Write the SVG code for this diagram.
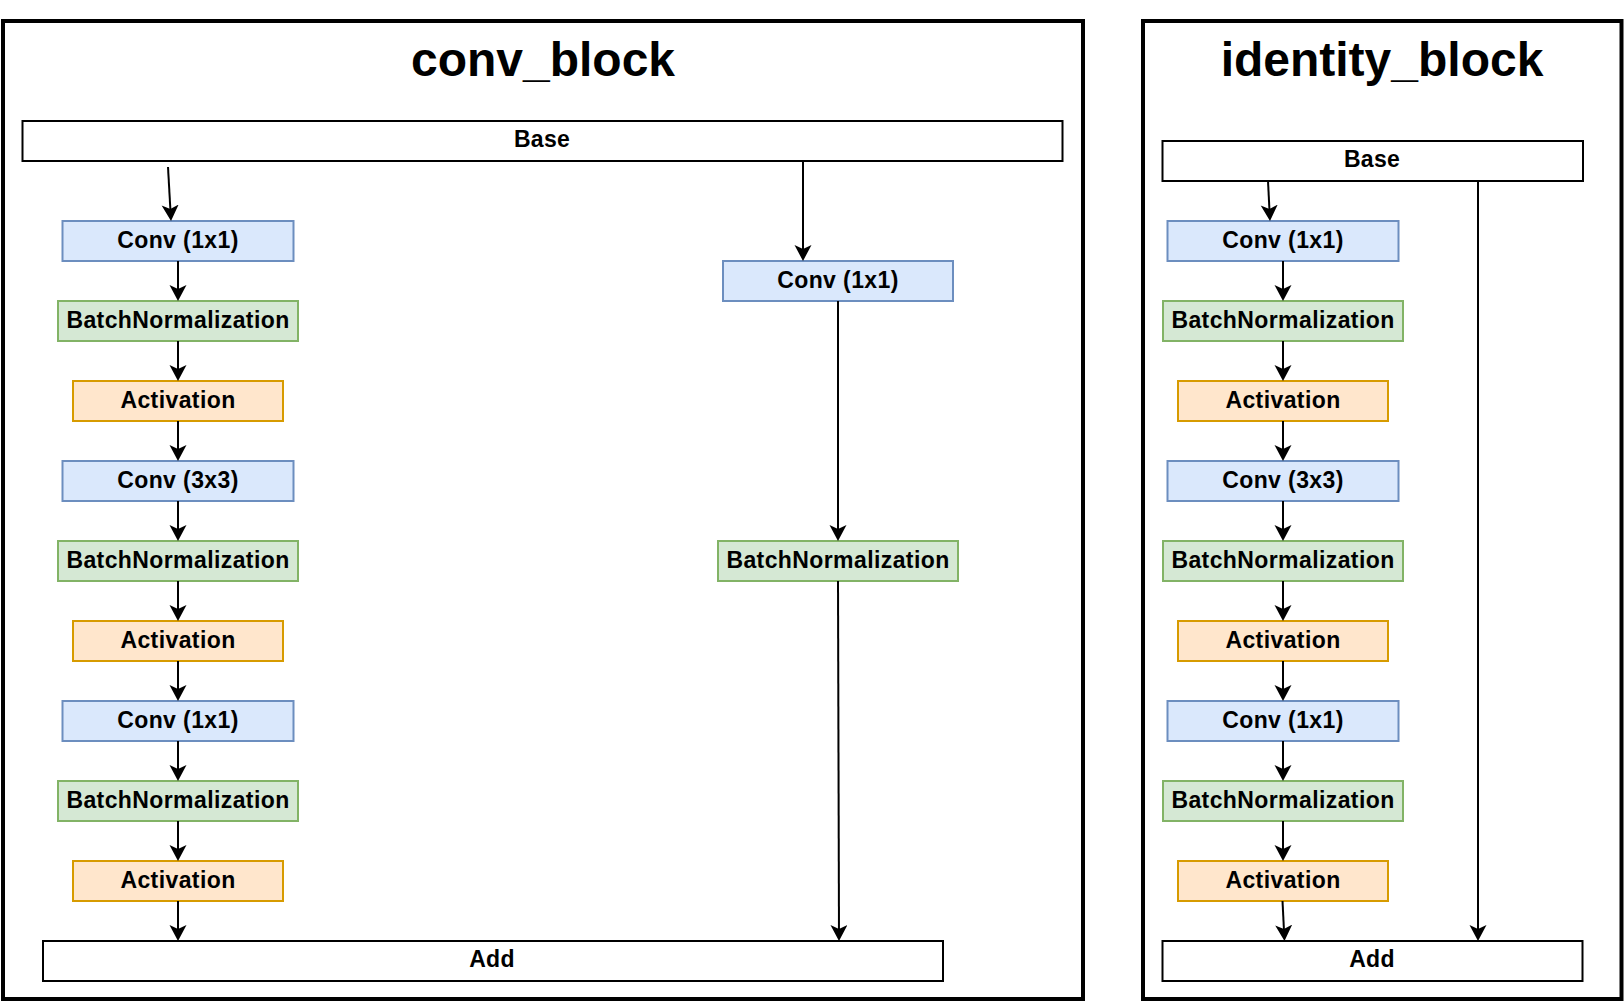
<svg xmlns="http://www.w3.org/2000/svg" width="1624" height="1002" viewBox="0 0 1624 1002">
<style>
.frame{fill:#fff;stroke:#000;stroke-width:4}
.title{font-family:"Liberation Sans",Arial,sans-serif;font-weight:bold;font-size:48px;text-anchor:middle;fill:#000}
.plain{fill:#fff;stroke:#000;stroke-width:2}
.conv{fill:#dae8fc;stroke:#6c8ebf;stroke-width:2}
.bn{fill:#d5e8d4;stroke:#82b366;stroke-width:2}
.act{fill:#ffe6cc;stroke:#d79b00;stroke-width:2}
.lbl{font-family:"Liberation Sans",Arial,sans-serif;font-weight:bold;font-size:23px;letter-spacing:0.4px;text-anchor:middle;fill:#000}
.lbl2{font-family:"Liberation Sans",Arial,sans-serif;font-weight:bold;font-size:23px;letter-spacing:0.3px;text-anchor:middle;fill:#000}
.edge{fill:none;stroke:#000;stroke-width:2;marker-end:url(#arr)}
</style>
<defs>
<marker id="arr" markerUnits="userSpaceOnUse" markerWidth="18" markerHeight="18" refX="12" refY="8.5" orient="auto" viewBox="0 0 18 18">
<path d="M0,0 L16,8.5 L0,17 L4,8.5 Z" fill="#000"/>
</marker>
</defs>
<rect width="1624" height="1002" fill="#fff"/>
<g id="conv_block_frame">
<rect class="frame" x="3" y="21" width="1080" height="978"/>
<text class="title" x="543" y="76">conv_block</text>
</g>
<g id="identity_block_frame">
<rect class="frame" x="1143" y="21" width="478.5" height="978"/>
<text class="title" x="1382" y="76">identity_block</text>
</g>

<g id="cb_base"><rect class="plain" x="22.5" y="121" width="1040" height="40"/><text class="lbl2" x="542" y="147">Base</text></g>
<g id="cb_conv1"><rect class="conv" x="62.5" y="221" width="231" height="40"/><text class="lbl" x="178" y="248">Conv (1x1)</text></g>
<g id="cb_bn1"><rect class="bn" x="58" y="301" width="240" height="40"/><text class="lbl" x="178" y="328">BatchNormalization</text></g>
<g id="cb_act1"><rect class="act" x="73" y="381" width="210" height="40"/><text class="lbl" x="178" y="408">Activation</text></g>
<g id="cb_conv2"><rect class="conv" x="62.5" y="461" width="231" height="40"/><text class="lbl" x="178" y="488">Conv (3x3)</text></g>
<g id="cb_bn2"><rect class="bn" x="58" y="541" width="240" height="40"/><text class="lbl" x="178" y="568">BatchNormalization</text></g>
<g id="cb_act2"><rect class="act" x="73" y="621" width="210" height="40"/><text class="lbl" x="178" y="648">Activation</text></g>
<g id="cb_conv3"><rect class="conv" x="62.5" y="701" width="231" height="40"/><text class="lbl" x="178" y="728">Conv (1x1)</text></g>
<g id="cb_bn3"><rect class="bn" x="58" y="781" width="240" height="40"/><text class="lbl" x="178" y="808">BatchNormalization</text></g>
<g id="cb_act3"><rect class="act" x="73" y="861" width="210" height="40"/><text class="lbl" x="178" y="888">Activation</text></g>
<g id="cb_sc_conv"><rect class="conv" x="723" y="261" width="230" height="40"/><text class="lbl" x="838" y="288">Conv (1x1)</text></g>
<g id="cb_sc_bn"><rect class="bn" x="718" y="541" width="240" height="40"/><text class="lbl" x="838" y="568">BatchNormalization</text></g>
<g id="cb_add"><rect class="plain" x="43" y="941" width="900" height="40"/><text class="lbl2" x="492" y="967">Add</text></g>

<g id="ib_base"><rect class="plain" x="1162.5" y="141" width="420.5" height="40"/><text class="lbl2" x="1372" y="167">Base</text></g>
<g id="ib_conv1"><rect class="conv" x="1167.5" y="221" width="231" height="40"/><text class="lbl" x="1283" y="248">Conv (1x1)</text></g>
<g id="ib_bn1"><rect class="bn" x="1163" y="301" width="240" height="40"/><text class="lbl" x="1283" y="328">BatchNormalization</text></g>
<g id="ib_act1"><rect class="act" x="1178" y="381" width="210" height="40"/><text class="lbl" x="1283" y="408">Activation</text></g>
<g id="ib_conv2"><rect class="conv" x="1167.5" y="461" width="231" height="40"/><text class="lbl" x="1283" y="488">Conv (3x3)</text></g>
<g id="ib_bn2"><rect class="bn" x="1163" y="541" width="240" height="40"/><text class="lbl" x="1283" y="568">BatchNormalization</text></g>
<g id="ib_act2"><rect class="act" x="1178" y="621" width="210" height="40"/><text class="lbl" x="1283" y="648">Activation</text></g>
<g id="ib_conv3"><rect class="conv" x="1167.5" y="701" width="231" height="40"/><text class="lbl" x="1283" y="728">Conv (1x1)</text></g>
<g id="ib_bn3"><rect class="bn" x="1163" y="781" width="240" height="40"/><text class="lbl" x="1283" y="808">BatchNormalization</text></g>
<g id="ib_act3"><rect class="act" x="1178" y="861" width="210" height="40"/><text class="lbl" x="1283" y="888">Activation</text></g>
<g id="ib_add"><rect class="plain" x="1162.5" y="941" width="420" height="40"/><text class="lbl2" x="1372" y="967">Add</text></g>

<g id="connectors">
<path class="edge" d="M168,167 L170.8,217"/>
<path class="edge" d="M178,261 L178,297"/>
<path class="edge" d="M178,341 L178,377"/>
<path class="edge" d="M178,421 L178,457"/>
<path class="edge" d="M178,501 L178,537"/>
<path class="edge" d="M178,581 L178,617"/>
<path class="edge" d="M178,661 L178,697"/>
<path class="edge" d="M178,741 L178,777"/>
<path class="edge" d="M178,821 L178,857"/>
<path class="edge" d="M178,901 L178,937"/>
<path class="edge" d="M803,161 L803,257"/>
<path class="edge" d="M838,301 L838,537"/>
<path class="edge" d="M838,581 L839,937"/>
<path class="edge" d="M1268,181 L1269.8,217"/>
<path class="edge" d="M1283,261 L1283,297"/>
<path class="edge" d="M1283,341 L1283,377"/>
<path class="edge" d="M1283,421 L1283,457"/>
<path class="edge" d="M1283,501 L1283,537"/>
<path class="edge" d="M1283,581 L1283,617"/>
<path class="edge" d="M1283,661 L1283,697"/>
<path class="edge" d="M1283,741 L1283,777"/>
<path class="edge" d="M1283,821 L1283,857"/>
<path class="edge" d="M1282.5,901 L1284.3,937"/>
<path class="edge" d="M1478,181 L1478,937"/>
</g>
</svg>
